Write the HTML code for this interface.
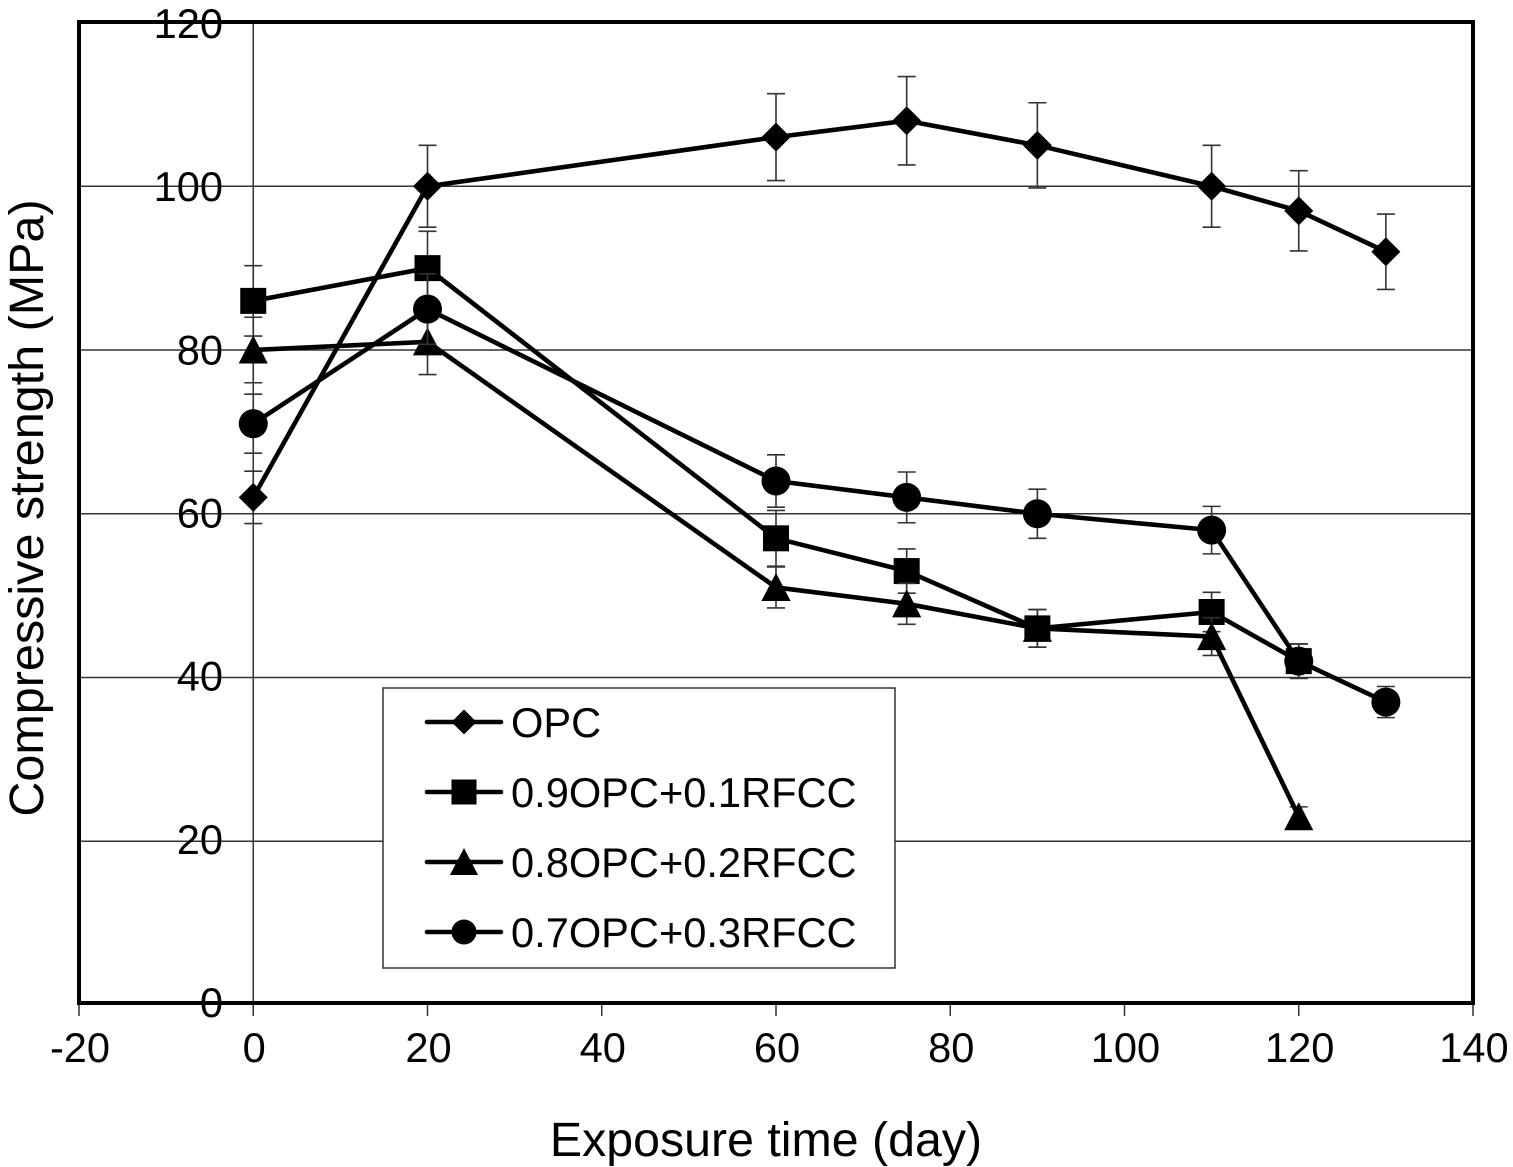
<!DOCTYPE html>
<html>
<head>
<meta charset="utf-8">
<title>Compressive strength vs exposure time</title>
<style>
html,body{margin:0;padding:0;background:#fff;width:1513px;height:1167px;overflow:hidden}
svg{display:block}
text{font-family:"Liberation Sans",Arial,sans-serif;fill:#000}
</style>
</head>
<body>
<svg id="chart" width="1513" height="1167" viewBox="0 0 1513 1167" xmlns="http://www.w3.org/2000/svg"></svg>
<script>
const xTicks = [-20, 0, 20, 40, 60, 80, 100, 120, 140];
const yTicks = [0, 20, 40, 60, 80, 100, 120];
const seriesNames = ['OPC', '0.9OPC+0.1RFCC', '0.8OPC+0.2RFCC', '0.7OPC+0.3RFCC'];
const seriesKeys = ['opc', 'rfcc-10', 'rfcc-20', 'rfcc-30'];
const markerKinds = ['diamond', 'square', 'triangle', 'circle'];

const opcDays = [0, 20, 60, 75, 90, 110, 120, 130];
const opcValues = [62, 100, 106, 108, 105, 100, 97, 92];
const opcErrors = [3.2, 5, 5.3, 5.4, 5.2, 5, 4.9, 4.6];

const rfcc10Days = [0, 20, 60, 75, 90, 110, 120];
const rfcc10Values = [86, 90, 57, 53, 46, 48, 42];
const rfcc10Errors = [4.3, 4.5, 3.4, 2.7, 2.3, 2.4, 2.1];

const rfcc20Days = [0, 20, 60, 75, 90, 110, 120];
const rfcc20Values = [80, 81, 51, 49, 46, 45, 23];
const rfcc20Errors = [4, 4, 2.5, 2.5, 2.3, 2.3, 1.2];

const rfcc30Days = [0, 20, 60, 75, 90, 110, 120, 130];
const rfcc30Values = [71, 85, 64, 62, 60, 58, 42, 37];
const rfcc30Errors = [3.6, 4.3, 3.2, 3.1, 3, 2.9, 2.1, 1.9];

const allDays = [opcDays, rfcc10Days, rfcc20Days, rfcc30Days];
const allValues = [opcValues, rfcc10Values, rfcc20Values, rfcc30Values];
const allErrors = [opcErrors, rfcc10Errors, rfcc20Errors, rfcc30Errors];

const NS = 'http://www.w3.org/2000/svg';
const svg = document.getElementById('chart');
const X0 = 79, X1 = 1473, FRAME_TOP = 22, FRAME_BOTTOM = 1003;
const Y0 = 1005, Y1 = 22.5;
function sx(v){ return X0 + (v - (-20)) / 160 * (X1 - X0); }
function sy(v){ return Y0 - v / 120 * (Y0 - Y1); }
function labelY(v){ return 1002 - v / 120 * 979 + 15; }

function make(tag, attrs, parent){
  const el = document.createElementNS(NS, tag);
  for (const k in attrs) el.setAttribute(k, attrs[k]);
  (parent || svg).appendChild(el);
  return el;
}
function drawMarker(kind, cx, cy, s, parent){
  let el;
  if (kind === 'diamond') {
    el = make('polygon', {points: `${cx},${cy-s} ${cx+s},${cy} ${cx},${cy+s} ${cx-s},${cy}`, fill:'#000'}, parent);
  } else if (kind === 'square') {
    el = make('rect', {x: cx-s, y: cy-s, width: 2*s, height: 2*s, fill:'#000'}, parent);
  } else if (kind === 'triangle') {
    el = make('polygon', {points: `${cx},${cy-s*1.08} ${cx+s*1.08},${cy+s} ${cx-s*1.08},${cy+s}`, fill:'#000'}, parent);
  } else {
    el = make('circle', {cx: cx, cy: cy, r: s, fill:'#000'}, parent);
  }
  return el;
}

/* gridlines */
yTicks.forEach(function(t){
  if (t === 0 || t === 120) return;
  const g = make('line', {x1:X0, x2:X1, y1:sy(t), y2:sy(t), stroke:'#333', 'stroke-width':1.5});
  
  
});

/* legend box (hides gridlines behind it) */
const legendBox = make('rect', {x:383, y:688, width:512, height:280, fill:'#fff', stroke:'#333', 'stroke-width':1.5});



/* vertical axis at x = 0 */
const zeroLine = make('line', {x1:sx(0), x2:sx(0), y1:FRAME_TOP, y2:FRAME_BOTTOM, stroke:'#333', 'stroke-width':1.5});



/* x ticks and labels */
xTicks.forEach(function(t){
  const m = make('line', {x1:sx(t), x2:sx(t), y1:FRAME_BOTTOM, y2:1016, stroke:'#333', 'stroke-width':1.5});
  
  
  const l = make('text', {x:sx(t)+1, y:1062, 'text-anchor':'middle', 'font-size':41.6});
  
  
  l.textContent = t;
});

/* plot frame */
const frame = make('rect', {x:X0, y:FRAME_TOP, width:X1-X0, height:FRAME_BOTTOM-FRAME_TOP, fill:'none', stroke:'#000', 'stroke-width':4});



/* y labels */
yTicks.forEach(function(t){
  const l = make('text', {x:223, y:labelY(t), 'text-anchor':'end', 'font-size':41.6});
  
  
  l.textContent = t;
});

/* series */
const markerSizes = [14.5, 13, 13.5, 14.5];
seriesNames.forEach(function(name, i){
  const g = make('g', {});
  
  
  const days = allDays[i], vals = allValues[i], errs = allErrors[i];
  days.forEach(function(d, j){
    const x = sx(d), top = sy(vals[j] + errs[j]), bot = sy(vals[j] - errs[j]);
    const eb = make('path', {d:`M${x} ${top}V${bot}M${x-9} ${top}H${x+9}M${x-9} ${bot}H${x+9}`, fill:'none', stroke:'#333', 'stroke-width':1.6}, g);
    
    
  });
  const pts = days.map(function(d, j){ return sx(d) + ',' + sy(vals[j]); }).join(' ');
  const line = make('polyline', {points:pts, fill:'none', stroke:'#000', 'stroke-width':4.6, 'stroke-linejoin':'round'}, g);
  
  
  days.forEach(function(d, j){
    const mk = drawMarker(markerKinds[i], sx(d), sy(vals[j]), markerSizes[i], g);
    
    
  });
});

/* legend entries */
const legendSizes = [12.5, 12.5, 13, 12.5];
seriesNames.forEach(function(name, i){
  const cy = 722 + i * 70;
  const g = make('g', {});
  
  
  const ln = make('line', {x1:427, x2:501, y1:cy, y2:cy, stroke:'#000', 'stroke-width':4.6, 'stroke-linecap':'round'}, g);
  
  
  const mk = drawMarker(markerKinds[i], 464, cy, legendSizes[i], g);
  
  
  const tx = make('text', {x:511, y:cy+15, 'font-size':41.6}, g);
  
  
  tx.textContent = name;
});

/* axis titles */
const xTitle = make('text', {x:766, y:1156, 'text-anchor':'middle', 'font-size':48.3});


xTitle.textContent = 'Exposure time (day)';
const yTitle = make('text', {x:0, y:0, 'text-anchor':'middle', 'font-size':48.5, transform:'translate(43 508) rotate(-90)'});


yTitle.textContent = 'Compressive strength (MPa)';
</script>
</body>
</html>
